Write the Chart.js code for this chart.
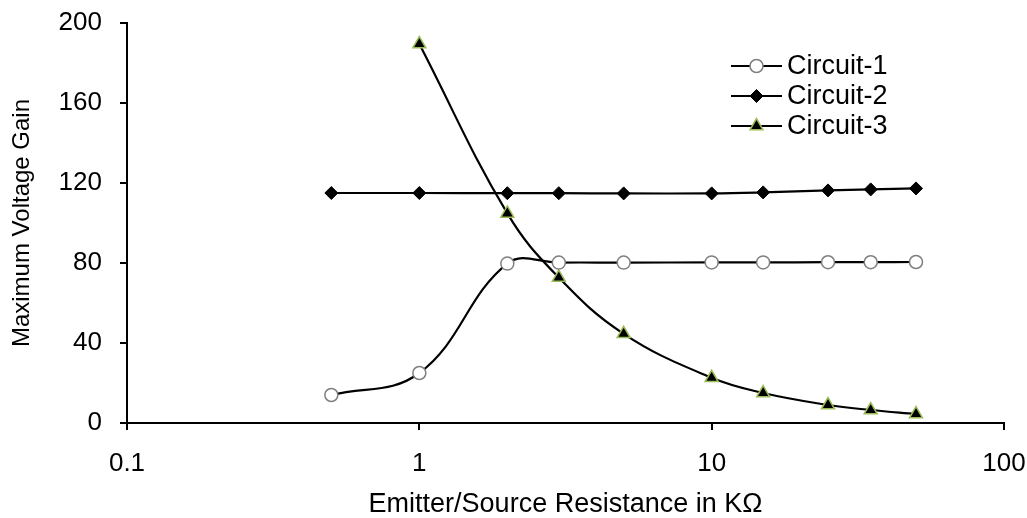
<!DOCTYPE html>
<html>
<head>
<meta charset="utf-8">
<script src="https://cdn.jsdelivr.net/npm/chart.js@4.4.1/dist/chart.umd.min.js"></script>
<style>
  html, body { margin: 0; padding: 0; background: #fff; }
  #wrap { width: 1027px; height: 518px; position: relative; }
</style>
</head>
<body>
<div id="wrap"><canvas id="gain"></canvas></div>
<script>
// resistance in kOhm
const resistance = [0.5, 1, 2, 3, 5, 10, 15, 25, 35, 50];
const circuit1 = [14, 25, 79.7, 80.2, 80.2, 80.3, 80.3, 80.4, 80.4, 80.5];
const circuit2 = [115, 115, 114.9, 114.9, 114.8, 114.8, 115.3, 116.3, 116.8, 117.3];
const circuit3 = [null, 189.5, 104.8, 72.7, 44.6, 22.6, 15, 9, 6.5, 4.5];
const seriesNames = ['Circuit-1', 'Circuit-2', 'Circuit-3'];
const xTicks = [0.1, 1, 10, 100];
const yTicks = [0, 40, 80, 120, 160, 200];

const fam = '"Liberation Sans", Arial, sans-serif';

function pts(vals) {
  return resistance.map((x, i) => ({ x: x, y: vals[i] })).filter(p => p.y !== null);
}

// legend with a line through the marker, like the spreadsheet one
const lineLegend = {
  id: 'lineLegend',
  afterDraw(chart) {
    const ctx = chart.ctx;
    const x0 = 731, x1 = 782, tx = 787;
    chart.data.datasets.forEach((ds, i) => {
      const y = 66 + i * 30;
      ctx.save();
      ctx.strokeStyle = '#000';
      ctx.lineWidth = 2;
      ctx.beginPath();
      ctx.moveTo(x0, y);
      ctx.lineTo(x1, y);
      ctx.stroke();
      ctx.fillStyle = ds.pointBackgroundColor;
      ctx.strokeStyle = ds.pointBorderColor;
      ctx.lineWidth = ds.pointBorderWidth;
      Chart.helpers.drawPoint(ctx, {
        pointStyle: ds.pointStyle,
        radius: ds.pointRadius,
        borderWidth: ds.pointBorderWidth,
        rotation: 0
      }, (x0 + x1) / 2, y);
      ctx.fillStyle = '#000';
      ctx.font = '27px ' + fam;
      ctx.textAlign = 'left';
      ctx.textBaseline = 'middle';
      ctx.fillText(ds.label, tx, y + 1);
      ctx.restore();
    });
  }
};

const common = {
  borderColor: '#000',
  borderWidth: 2.2,
  tension: 0.4,
  showLine: true,
  fill: false
};

new Chart(document.getElementById('gain'), {
  type: 'scatter',
  data: {
    datasets: [
      { ...common, label: seriesNames[0], data: pts(circuit1),
        pointStyle: 'circle', pointRadius: 6.5, pointBorderWidth: 1.5,
        pointBackgroundColor: '#fff', pointBorderColor: '#7f7f7f' },
      { ...common, label: seriesNames[1], data: pts(circuit2),
        pointStyle: 'rectRot', pointRadius: 6.5, pointBorderWidth: 1,
        pointBackgroundColor: '#000', pointBorderColor: '#000' },
      { ...common, label: seriesNames[2], data: pts(circuit3),
        pointStyle: 'triangle', pointRadius: 7.5, pointBorderWidth: 1.5,
        pointBackgroundColor: '#000', pointBorderColor: '#9bbb59' }
    ]
  },
  options: {
    responsive: true,
    maintainAspectRatio: false,
    animation: false,
    layout: { padding: { left: 0, right: 23, top: 23, bottom: 0 } },
    plugins: {
      legend: { display: false },
      tooltip: { enabled: false }
    },
    scales: {
      x: {
        type: 'logarithmic',
        min: 0.1,
        max: 100,
        afterBuildTicks: s => { s.ticks = xTicks.map(v => ({ value: v })); },
        afterFit: s => { s.height = 95; s.paddingLeft = 0; s.paddingRight = 0; },
        ticks: {
          color: '#000',
          padding: 18,
          font: { family: fam, size: 26 },
          callback: v => String(v),
          maxRotation: 0
        },
        grid: { drawOnChartArea: false, drawTicks: true, tickLength: 7, color: '#000', lineWidth: 2 },
        border: { color: '#000', width: 2 },
        title: {
          display: true,
          text: 'Emitter/Source Resistance in KΩ',
          color: '#000',
          font: { family: fam, size: 27, lineHeight: 1 },
          padding: { top: 0, bottom: 0 }
        }
      },
      y: {
        min: 0,
        max: 200,
        afterBuildTicks: s => { s.ticks = yTicks.map(v => ({ value: v })); },
        afterFit: s => { s.width = 127; s.paddingTop = 0; s.paddingBottom = 0; },
        ticks: {
          color: '#000',
          padding: 18,
          font: { family: fam, size: 26 }
        },
        grid: { drawOnChartArea: false, drawTicks: true, tickLength: 7, color: '#000', lineWidth: 2 },
        border: { color: '#000', width: 2 },
        title: {
          display: true,
          text: 'Maximum Voltage Gain',
          color: '#000',
          font: { family: fam, size: 24, lineHeight: 1 },
          padding: { top: 10, bottom: 0 }
        }
      }
    }
  },
  plugins: [lineLegend]
});
</script>
</body>
</html>
